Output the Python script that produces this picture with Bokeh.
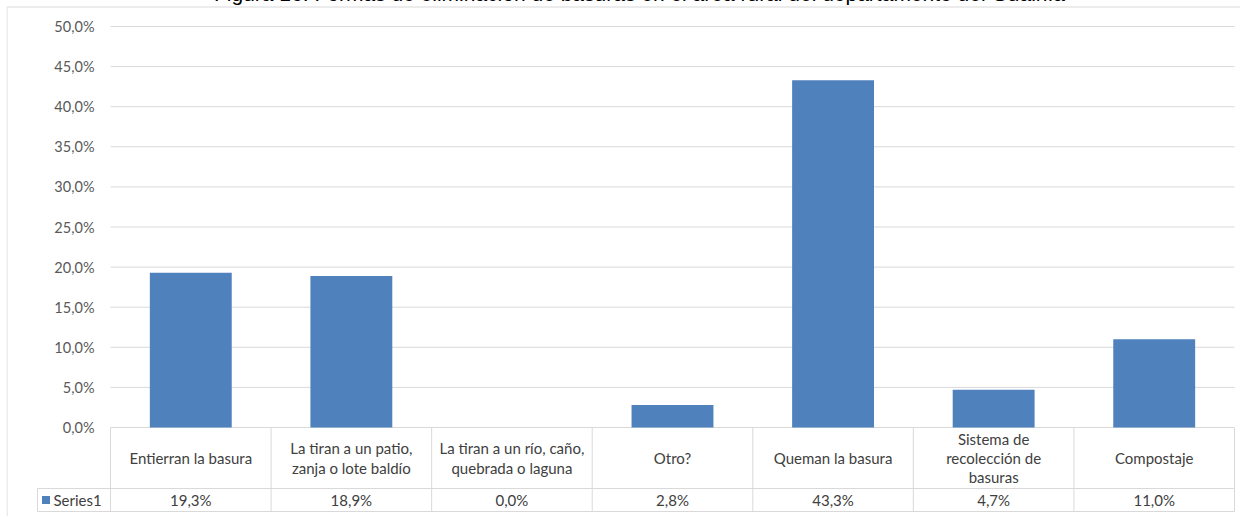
from bokeh.plotting import figure
from bokeh.models import Range1d, ColumnDataSource
from bokeh.core.properties import value
from bokeh.embed import file_html
from bokeh.resources import INLINE

# ---------------- data ----------------
title_text = "Figura 16. Formas de eliminación de basuras en el área rural del departamento del Guainía"
categories = [
    "Entierran la basura",
    "La tiran a un patio,\nzanja o lote baldío",
    "La tiran a un río, caño,\nquebrada o laguna",
    "Otro?",
    "Queman la basura",
    "Sistema de\nrecolección de\nbasuras",
    "Compostaje",
]
series_name = "Series1"
values = [19.3, 18.9, 0.0, 2.8, 43.3, 4.7, 11.0]
tick_values = [0, 5, 10, 15, 20, 25, 30, 35, 40, 45, 50]

def pct(v):
    return f"{v:.1f}".replace(".", ",") + "%"

tick_labels = [pct(t) for t in tick_values]
value_labels = [pct(v) for v in values]

# ---------------- layout (page pixels) ----------------
W, H = 1234, 529
PAGE_X0, PAGE_Y0 = 7, -12          # page position of canvas top-left
FRAME_L, FRAME_R = 111, 1235       # plot area left/right
Y0_PX, YTOP_PX = 428, 27           # page y of 0% and 50%
N = len(categories)
UNIT = (FRAME_R - FRAME_L) / N
PPU = (Y0_PX - YTOP_PX) / 50.0

def xd(px):
    return (px - FRAME_L) / UNIT - 0.5

def yd(py):
    return (Y0_PX - py) / PPU

ROW1_BOT, ROW2_BOT = 489, 512
LEG_L = 38

p = figure(
    width=W, height=H,
    x_range=Range1d(xd(PAGE_X0), xd(PAGE_X0 + W)),
    y_range=Range1d(yd(PAGE_Y0 + H), yd(PAGE_Y0)),
    min_border=0, toolbar_location=None, output_backend="svg",
    x_axis_location=None, y_axis_location=None,
    outline_line_color=None, background_fill_color="white",
    margin=(-13, 0, -20, 6),
)
p.grid.visible = False

grid_col = "#d9d9d9"
font = value("Lato")

# outer chart border (left and top)
p.segment(x0=[xd(7.5), xd(7)], y0=[yd(8), yd(7.5)],
          x1=[xd(7.5), xd(1245)], y1=[yd(520), yd(7.5)],
          line_color=grid_col, line_width=1)

# gridlines
p.segment(x0=[-0.5] * len(tick_values), x1=[N - 0.5] * len(tick_values),
          y0=tick_values, y1=tick_values, line_color=grid_col, line_width=1)

# bars
src = ColumnDataSource(dict(x=list(range(N)), top=values))
p.vbar(x="x", top="top", bottom=0, width=0.51, source=src,
       fill_color="#4f81bd", line_color=None)

# y tick labels
p.text(x=[xd(95)] * len(tick_values), y=tick_values, text=tick_labels,
       text_align="right", text_baseline="middle", text_font=font,
       text_font_size="14.5px", text_color="#595959")

# data table lines
xs = [k - 0.5 for k in range(N + 1)]
p.segment(x0=xs, x1=xs, y0=[yd(Y0_PX)] * len(xs), y1=[yd(ROW2_BOT)] * len(xs),
          line_color=grid_col, line_width=1)
p.segment(x0=[xd(LEG_L), xd(LEG_L), xd(LEG_L)],
          x1=[N - 0.5, N - 0.5, xd(LEG_L)],
          y0=[yd(ROW1_BOT), yd(ROW2_BOT), yd(ROW1_BOT)],
          y1=[yd(ROW1_BOT), yd(ROW2_BOT), yd(ROW2_BOT)],
          line_color=grid_col, line_width=1)

# category labels
p.text(x=list(range(N)), y=[yd((Y0_PX + ROW1_BOT) / 2)] * N, text=categories,
       text_align="center", text_baseline="middle", text_font=font,
       text_font_size="15px", text_color="#404040", text_line_height=1.07)

# value labels
p.text(x=list(range(N)), y=[yd((ROW1_BOT + ROW2_BOT) / 2)] * N, text=value_labels,
       text_align="center", text_baseline="middle", text_font=font,
       text_font_size="15px", text_color="#404040")

# legend key in table
p.scatter(x=[xd(46.5)], y=[yd((ROW1_BOT + ROW2_BOT) / 2)], marker="square",
          size=8, fill_color="#4f81bd", line_color=None)
p.text(x=[xd(54)], y=[yd((ROW1_BOT + ROW2_BOT) / 2)], text=[series_name],
       text_align="left", text_baseline="middle", text_font=font,
       text_font_size="15px", text_color="#404040")

# title (clipped at top as in the reference)
p.text(x=[xd(640)], y=[yd(-6)], text=[title_text], text_align="center",
       text_baseline="alphabetic", text_font=value("Liberation Sans"),
       text_font_size="21px", text_color="black")

open("out.html", "w").write(file_html(p, INLINE))
